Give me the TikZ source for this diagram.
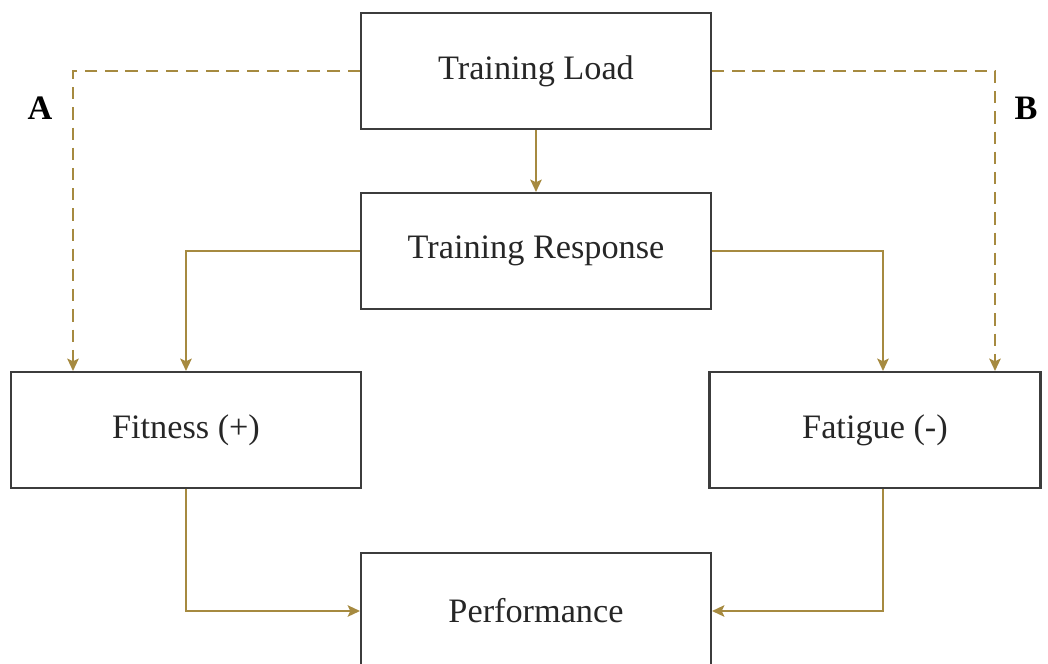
\documentclass[tikz,border=0pt]{standalone}
\usepackage{fontspec}
\setmainfont{Liberation Serif}
\usetikzlibrary{arrows.meta}
\definecolor{linkgold}{RGB}{166,138,64}
\definecolor{boxgray}{RGB}{60,60,60}
\begin{document}
\begin{tikzpicture}[x=0.02cm, y=-0.02cm, >={Stealth[length=7pt, width=6.5pt, inset=1.5pt]},
  block/.style={draw=boxgray, line width=1.2pt, minimum width=7cm, minimum height=2.32cm,
    font=\fontsize{19.5}{23}\selectfont, text=black!85},
  link/.style={draw=linkgold, line width=1.3pt, ->},
  dashlink/.style={link, dash pattern=on 7pt off 4.5pt}]
  \useasboundingbox (0,0) rectangle (1048,663);
  \node[block] (load) at (536,71) {Training Load};
  \node[block] (resp) at (536,251) {Training Response};
  \node[block] (fit) at (186,430) {Fitness (+)};
  \node[block, minimum width=6.62cm] (fat) at (875,430) {Fatigue (-)};
  \node[block] (perf) at (536,611) {Performance};
  % solid paths
  \draw[link] (load) -- (resp);
  \draw[link] (resp.west) -| (fit.north);
  \draw[link] (resp.east) -| ([xshift=8*0.02cm]fat.north);
  \draw[link] (fit.south) |- (perf.west);
  \draw[link] ([xshift=8*0.02cm]fat.south) |- (perf.east);
  % dashed paths
  \draw[dashlink] (load.west) -| ([xshift=-113*0.02cm]fit.north);
  \draw[dashlink] (load.east) -| ([xshift=120*0.02cm]fat.north);
  \node[font=\fontsize{19.5}{23}\selectfont\bfseries] (lblA) at (40,108) {A};
  \node[font=\fontsize{19.5}{23}\selectfont\bfseries] (lblB) at (1026,108) {B};
\end{tikzpicture}
\end{document}
